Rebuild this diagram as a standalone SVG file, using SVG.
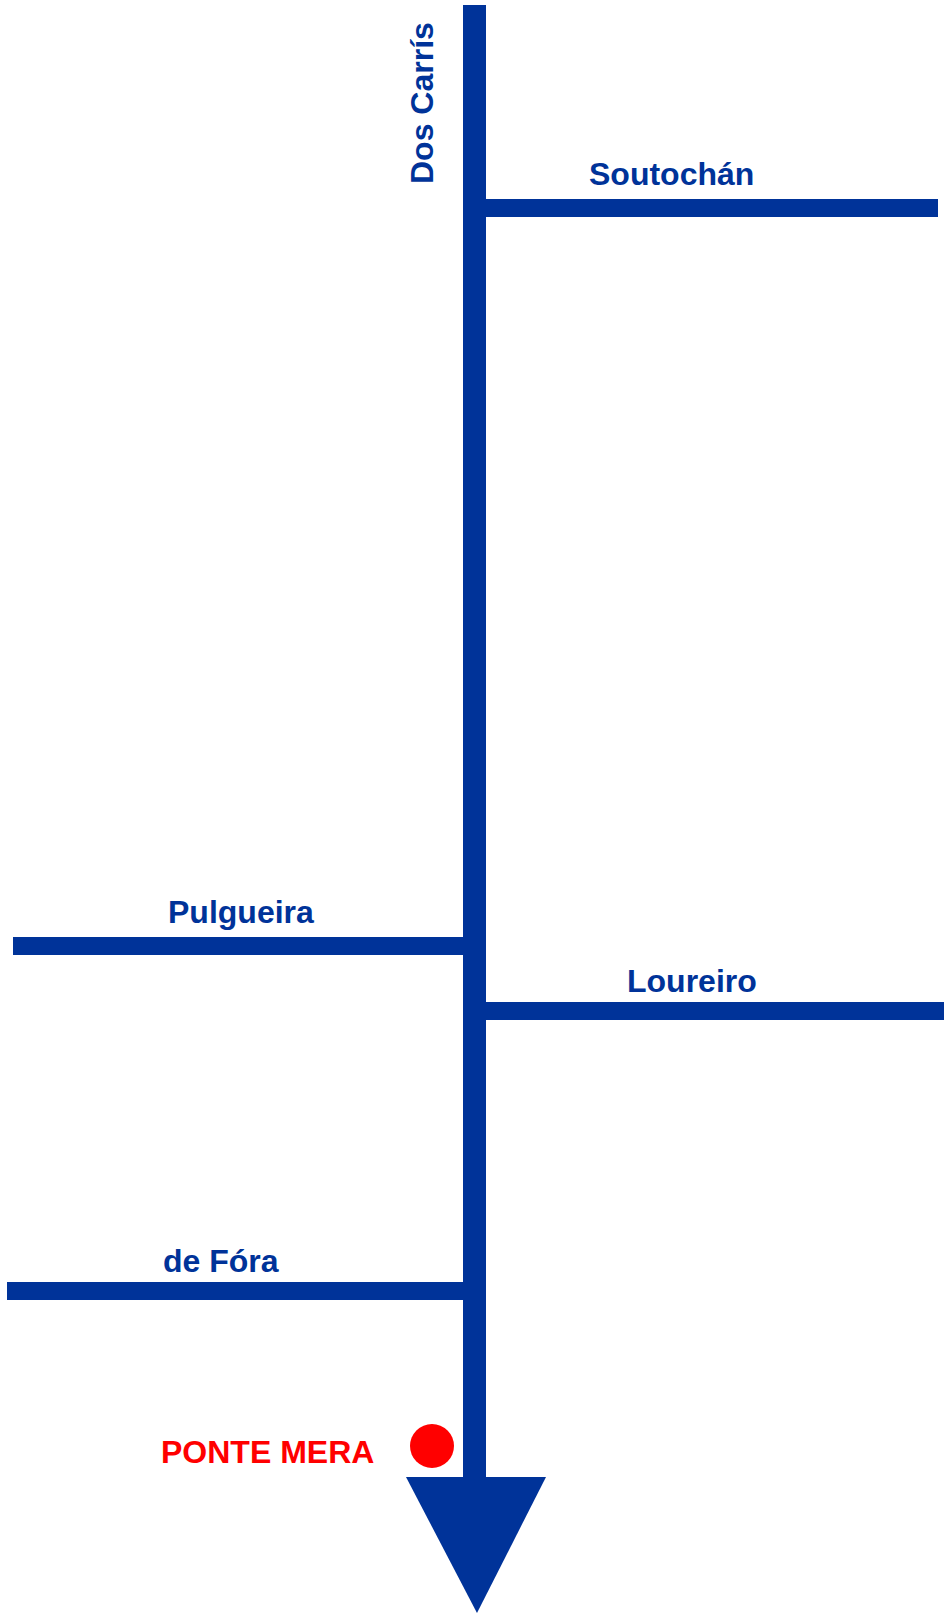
<svg xmlns="http://www.w3.org/2000/svg" width="944" height="1613" viewBox="0 0 944 1613">
<style>
.road{fill:#003399}
.lbl{font-family:"Liberation Sans",Arial,sans-serif;font-weight:bold;font-size:32px;fill:#003399}
.red{fill:#ff0000}
</style>
<rect width="944" height="1613" fill="#ffffff"/>
<g id="connectors">
<rect class="road" x="463" y="5" width="23" height="1473"/>
<polygon class="road" points="406,1477 546,1477 477,1613"/>
<rect class="road" x="486" y="199" width="452" height="18"/>
<rect class="road" x="13" y="937" width="451" height="18"/>
<rect class="road" x="486" y="1002" width="458" height="18"/>
<rect class="road" x="7" y="1282" width="457" height="18"/>
</g>
<g id="dos-carris"><text class="lbl" transform="translate(433,184) rotate(-90)">Dos Carrís</text></g>
<g id="soutochan"><text class="lbl" x="589" y="185">Soutochán</text></g>
<g id="pulgueira"><text class="lbl" x="168" y="923">Pulgueira</text></g>
<g id="loureiro"><text class="lbl" x="627" y="992">Loureiro</text></g>
<g id="de-fora"><text class="lbl" x="163" y="1272">de Fóra</text></g>
<g id="ponte-mera">
<circle class="red" cx="432" cy="1446" r="22"/>
<text class="lbl red" x="161" y="1463">PONTE MERA</text>
</g>
</svg>
